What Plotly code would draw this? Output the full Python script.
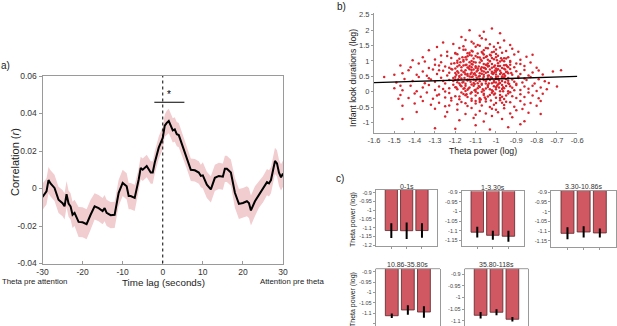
import plotly.graph_objects as go

W, H = 617, 326
FONT = "Liberation Sans, Arial, sans-serif"

# ---------------- Panel a: cross-correlation ----------------
lag_s = [-30, -29, -28.5, -28, -27, -26, -25, -24.5, -24, -23.5,
         -23, -22.5, -22, -21, -20, -19, -18, -17, -16, -15,
         -14.5, -14, -13, -12, -11, -10, -9, -8.5, -8, -7,
         -6, -5.5, -5, -4, -3, -2.5, -2, -1, 0, 0.5,
         1, 1.5, 2, 2.5, 3, 3.5, 4, 5, 6, 7,
         8, 9, 9.5, 10, 11, 12, 13, 14, 15, 15.5,
         16, 17, 18, 19, 20, 21, 21.5, 22, 23, 24,
         25, 26, 26.5, 27, 28, 28.5, 29, 29.5, 30]
corr_r = [-0.0045, -0.0015, 0.0045, 0.0027, 0.0003, -0.006, -0.0078, -0.0095, -0.003, -0.008,
          -0.0095, -0.014, -0.013, -0.0178, -0.018, -0.019, -0.014, -0.0095, -0.0105, -0.012,
          -0.0105, -0.013, -0.0142, -0.014, -0.0023, 0.003, 0.0012, -0.004, -0.004, -0.005,
          0.0048, 0.011, 0.010, 0.012, 0.0085, 0.0085, 0.0137, 0.0218, 0.027, 0.0335,
          0.035, 0.036, 0.0335, 0.031, 0.0315, 0.029, 0.0285, 0.0227, 0.0165, 0.010,
          0.0097, 0.0085, 0.0067, 0.007, 0.002, -0.0005, 0.0057, 0.0067, 0.0063, 0.0105,
          0.0105, 0.0085, -0.0023, -0.0082, -0.0077, -0.0068, -0.0077, -0.0117, -0.0068, -0.0033,
          -0.0005, 0.0034, 0.0027, 0.0045, 0.0147, 0.0134, 0.0084, 0.006, 0.008]
ci_half = [0.007, 0.007, 0.007, 0.007, 0.007, 0.007, 0.007, 0.007, 0.007, 0.007,
           0.007, 0.007, 0.007, 0.008, 0.008, 0.008, 0.008, 0.007, 0.007, 0.007,
           0.007, 0.007, 0.007, 0.007, 0.007, 0.007, 0.007, 0.007, 0.007, 0.007,
           0.006, 0.006, 0.006, 0.006, 0.006, 0.006, 0.006, 0.006, 0.006, 0.006,
           0.0065, 0.0065, 0.0065, 0.0065, 0.0065, 0.0065, 0.0065, 0.006, 0.006, 0.006,
           0.006, 0.006, 0.006, 0.007, 0.007, 0.007, 0.007, 0.007, 0.007, 0.007,
           0.007, 0.007, 0.008, 0.008, 0.008, 0.008, 0.008, 0.008, 0.008, 0.007,
           0.007, 0.007, 0.007, 0.007, 0.007, 0.007, 0.007, 0.007, 0.007]
lag_ticks = [-30, -20, -10, 0, 10, 20, 30]
lag_tick_text = ["-30", "-20", "-10", "0", "10", "20", "30"]
corr_ticks = [-0.04, -0.02, 0, 0.02, 0.04, 0.06]
corr_tick_text = ["-0.04", "-0.02", "0", "0.02", "0.04", "0.06"]
sig_window = [-2.1, 5.4]
sig_level = 0.046

# ---------------- Panel b: scatter ----------------
look_points = [
    (-1.13, 2.0), (-1.02, 2.05), (-1.08, 1.82), (-1.17, 1.78), (-0.98, 1.9), (-1.06, 1.95),
    (-1.21, 1.55), (-1.12, 1.62), (-1.05, 1.7), (-0.99, 1.58), (-1.09, 1.52), (-1.15, 1.68),
    (-0.96, 1.66), (-1.03, 1.54), (-1.26, 1.6), (-1.07, 1.74), (-0.93, 1.52), (-1.11, 1.57),
    (-1.24, 1.3), (-1.18, 1.42), (-1.13, 1.27), (-1.1, 1.46), (-1.06, 1.35), (-1.02, 1.28),
    (-0.98, 1.44), (-0.95, 1.32), (-1.15, 1.36), (-1.08, 1.49), (-1.04, 1.41), (-1.0, 1.37),
    (-1.2, 1.26), (-0.92, 1.4), (-1.12, 1.33), (-1.07, 1.29), (-1.29, 1.45), (-0.97, 1.27),
    (-1.16, 1.48), (-1.01, 1.46), (-0.89, 1.3), (-1.33, 1.35),
    (-1.3, 1.05), (-1.27, 1.18), (-1.22, 1.1), (-1.19, 1.22), (-1.16, 1.03), (-1.14, 1.15),
    (-1.11, 1.08), (-1.09, 1.24), (-1.07, 1.01), (-1.05, 1.13), (-1.03, 1.2), (-1.01, 1.06),
    (-0.99, 1.17), (-0.97, 1.02), (-0.94, 1.12), (-0.91, 1.21), (-0.88, 1.04), (-1.13, 1.19),
    (-1.08, 1.11), (-1.04, 1.04), (-1.0, 1.23), (-1.18, 1.07), (-1.24, 1.16), (-1.12, 1.0),
    (-0.96, 1.09), (-1.06, 1.21), (-1.36, 1.12), (-0.85, 1.14), (-1.2, 1.24), (-1.02, 1.1),
    (-1.1, 1.16), (-0.93, 1.0), (-1.15, 1.12), (-1.41, 1.02), (-0.82, 1.2),
    (-1.42, 0.8), (-1.38, 0.92), (-1.33, 0.77), (-1.3, 0.88), (-1.27, 0.96), (-1.25, 0.82),
    (-1.22, 0.91), (-1.2, 0.76), (-1.18, 0.86), (-1.16, 0.98), (-1.14, 0.79), (-1.12, 0.9),
    (-1.1, 0.83), (-1.08, 0.95), (-1.06, 0.78), (-1.05, 0.88), (-1.03, 0.99), (-1.01, 0.81),
    (-0.99, 0.93), (-0.97, 0.77), (-0.95, 0.87), (-0.93, 0.97), (-0.91, 0.8), (-0.88, 0.9),
    (-0.86, 0.84), (-0.83, 0.95), (-1.15, 0.87), (-1.11, 0.97), (-1.07, 0.8), (-1.02, 0.9),
    (-0.98, 0.84), (-1.19, 0.94), (-1.23, 0.78), (-1.09, 0.76), (-1.04, 0.82), (-0.96, 0.99),
    (-1.13, 0.84), (-1.0, 0.76), (-0.9, 0.92), (-1.28, 0.85), (-1.35, 0.98), (-0.8, 0.78),
    (-1.47, 0.85), (-0.94, 0.8), (-1.17, 0.8),
    (-1.46, 0.6), (-1.43, 0.7), (-1.39, 0.55), (-1.36, 0.66), (-1.34, 0.52), (-1.31, 0.72),
    (-1.29, 0.58), (-1.26, 0.68), (-1.24, 0.53), (-1.22, 0.74), (-1.2, 0.61), (-1.18, 0.51),
    (-1.17, 0.69), (-1.15, 0.57), (-1.13, 0.73), (-1.12, 0.63), (-1.1, 0.54), (-1.09, 0.7),
    (-1.07, 0.59), (-1.06, 0.66), (-1.04, 0.52), (-1.03, 0.72), (-1.01, 0.62), (-1.0, 0.56),
    (-0.98, 0.68), (-0.97, 0.5), (-0.95, 0.64), (-0.93, 0.74), (-0.92, 0.55), (-0.9, 0.67),
    (-0.88, 0.58), (-0.86, 0.71), (-0.84, 0.53), (-0.82, 0.63), (-0.79, 0.69), (-0.77, 0.56),
    (-1.16, 0.64), (-1.11, 0.58), (-1.08, 0.51), (-1.05, 0.74), (-1.02, 0.6), (-0.99, 0.73),
    (-0.96, 0.58), (-1.14, 0.52), (-1.19, 0.67), (-1.23, 0.62), (-1.28, 0.7), (-0.94, 0.6),
    (-1.0, 0.65), (-1.06, 0.55), (-1.12, 0.71), (-0.72, 0.66), (-0.68, 0.7), (-1.5, 0.55),
    (-0.89, 0.5),
    (-1.49, 0.3), (-1.45, 0.42), (-1.41, 0.35), (-1.38, 0.48), (-1.35, 0.28), (-1.32, 0.4),
    (-1.3, 0.33), (-1.27, 0.46), (-1.25, 0.27), (-1.23, 0.38), (-1.21, 0.45), (-1.19, 0.31),
    (-1.17, 0.43), (-1.15, 0.26), (-1.14, 0.37), (-1.12, 0.47), (-1.11, 0.29), (-1.09, 0.41),
    (-1.08, 0.34), (-1.06, 0.49), (-1.05, 0.27), (-1.03, 0.39), (-1.02, 0.45), (-1.0, 0.3),
    (-0.99, 0.42), (-0.97, 0.35), (-0.96, 0.47), (-0.94, 0.28), (-0.92, 0.4), (-0.91, 0.33),
    (-0.89, 0.45), (-0.87, 0.3), (-0.85, 0.38), (-0.83, 0.48), (-0.81, 0.27), (-0.79, 0.41),
    (-0.76, 0.34), (-1.16, 0.32), (-1.13, 0.4), (-1.1, 0.36), (-1.07, 0.26), (-1.04, 0.44),
    (-1.01, 0.36), (-0.98, 0.29), (-0.95, 0.41), (-1.2, 0.4), (-1.26, 0.35), (-1.33, 0.44),
    (-1.18, 0.48), (-0.9, 0.26), (-0.86, 0.43), (-1.06, 0.38), (-1.0, 0.48), (-0.74, 0.29),
    (-1.55, 0.48),
    (-1.5, 0.12), (-1.46, 0.05), (-1.42, 0.2), (-1.39, 0.02), (-1.36, 0.14), (-1.33, 0.22),
    (-1.3, 0.06), (-1.28, 0.17), (-1.25, 0.01), (-1.23, 0.12), (-1.21, 0.23), (-1.19, 0.08),
    (-1.17, 0.18), (-1.15, 0.03), (-1.13, 0.14), (-1.12, 0.24), (-1.1, 0.07), (-1.08, 0.16),
    (-1.07, 0.0), (-1.05, 0.11), (-1.04, 0.21), (-1.02, 0.05), (-1.0, 0.15), (-0.99, 0.24),
    (-0.97, 0.09), (-0.95, 0.19), (-0.94, 0.02), (-0.92, 0.13), (-0.9, 0.22), (-0.88, 0.06),
    (-0.86, 0.17), (-0.84, 0.1), (-0.82, 0.2), (-0.8, 0.03), (-0.78, 0.14), (-0.75, 0.08),
    (-1.16, 0.1), (-1.11, 0.2), (-1.06, 0.04), (-1.01, 0.18), (-0.96, 0.12), (-1.2, 0.15),
    (-1.26, 0.09), (-1.09, 0.12), (-1.03, 0.08), (-0.91, 0.05), (-1.14, 0.07), (-0.7, 0.17),
    (-1.47, 0.2), (-0.98, 0.02),
    (-1.47, -0.1), (-1.43, -0.2), (-1.4, -0.05), (-1.37, -0.16), (-1.34, -0.02), (-1.31, -0.22),
    (-1.28, -0.09), (-1.25, -0.18), (-1.23, -0.04), (-1.2, -0.14), (-1.18, -0.24), (-1.16, -0.07),
    (-1.14, -0.17), (-1.12, -0.01), (-1.1, -0.12), (-1.08, -0.21), (-1.06, -0.06), (-1.04, -0.15),
    (-1.02, -0.03), (-1.0, -0.19), (-0.98, -0.1), (-0.96, -0.23), (-0.94, -0.05), (-0.92, -0.14),
    (-0.9, -0.2), (-0.88, -0.08), (-0.86, -0.17), (-0.84, -0.02), (-0.82, -0.12), (-0.79, -0.21),
    (-1.15, -0.11), (-1.09, -0.04), (-1.05, -0.23), (-1.01, -0.09), (-0.97, -0.16), (-1.22, -0.2),
    (-1.29, -0.12), (-0.93, -0.01), (-1.48, -0.22), (-0.77, -0.06),
    (-1.36, -0.3), (-1.32, -0.42), (-1.28, -0.35), (-1.25, -0.47), (-1.22, -0.28), (-1.19, -0.4),
    (-1.17, -0.33), (-1.14, -0.46), (-1.12, -0.29), (-1.1, -0.38), (-1.07, -0.44), (-1.05, -0.31),
    (-1.03, -0.49), (-1.0, -0.36), (-0.98, -0.27), (-0.96, -0.43), (-0.93, -0.34), (-0.91, -0.48),
    (-0.88, -0.3), (-0.86, -0.41), (-0.83, -0.36), (-0.8, -0.45), (-1.15, -0.37), (-1.08, -0.26),
    (-1.01, -0.42), (-0.95, -0.32), (-1.23, -0.44), (-1.4, -0.38), (-0.78, -0.3), (-1.46, -0.45),
    (-1.3, -0.55), (-1.24, -0.65), (-1.19, -0.58), (-1.15, -0.72), (-1.12, -0.52), (-1.08, -0.62),
    (-1.05, -0.7), (-1.02, -0.55), (-0.99, -0.66), (-0.96, -0.53), (-0.93, -0.7), (-0.9, -0.6),
    (-0.87, -0.56), (-0.84, -0.68), (-1.1, -0.74), (-1.0, -0.58), (-0.78, -0.72), (-1.39, -0.65),
    (-1.25, -0.8), (-1.18, -0.92), (-1.11, -0.85), (-1.06, -0.96), (-1.02, -0.78), (-0.97, -0.88),
    (-0.92, -0.82), (-0.86, -0.95), (-1.46, -0.88),
    (-1.2, -1.2), (-1.1, -1.08), (-1.03, -1.22), (-0.94, -1.15), (-0.88, -1.05), (-1.3, -1.18),
]
# denser core of the cloud
core_points = [
    (-1.205, 0.93), (-1.185, 0.62), (-1.175, 0.21), (-1.165, 1.12), (-1.155, 0.45), (-1.145, -0.08),
    (-1.135, 0.78), (-1.125, 0.33), (-1.115, 1.31), (-1.105, 0.05), (-1.095, 0.66), (-1.085, 0.19),
    (-1.075, 1.05), (-1.065, 0.43), (-1.055, -0.18), (-1.045, 0.87), (-1.035, 0.27), (-1.025, 1.18),
    (-1.015, 0.58), (-1.005, -0.05), (-0.995, 0.71), (-0.985, 0.37), (-0.975, 1.09), (-0.965, 0.15),
    (-0.955, 0.52), (-0.945, 0.83), (-0.935, 0.25), (-0.925, 0.61), (-1.21, 0.35), (-1.19, 1.01),
    (-1.18, -0.15), (-1.17, 0.55), (-1.16, 0.85), (-1.15, 0.2), (-1.14, 1.25), (-1.13, 0.5),
    (-1.12, -0.22), (-1.11, 0.72), (-1.1, 0.95), (-1.09, 0.28), (-1.08, -0.33), (-1.07, 0.68),
    (-1.06, 1.1), (-1.05, 0.35), (-1.04, 0.92), (-1.03, -0.1), (-1.02, 0.65), (-1.01, 1.3),
    (-1.0, 0.08), (-0.99, 0.5), (-0.98, 0.98), (-0.97, 0.22), (-0.96, 0.75), (-0.95, -0.12),
    (-0.94, 0.45), (-0.93, 0.88), (-1.215, 0.72), (-1.195, 0.14), (-1.175, 0.96), (-1.155, 0.63),
    (-1.135, 0.11), (-1.115, 0.89), (-1.095, 0.46), (-1.075, -0.25), (-1.055, 0.77), (-1.035, 0.53),
    (-1.015, 0.02), (-0.995, 1.02), (-0.975, 0.62), (-0.955, 0.31), (-1.2, 0.49), (-1.18, 0.27),
    (-1.16, 1.36), (-1.14, 0.4), (-1.12, 0.8), (-1.1, 0.0), (-1.08, 0.6), (-1.06, 0.9),
    (-1.04, 0.16), (-1.02, 0.78), (-1.0, 0.42), (-0.98, -0.2), (-0.96, 0.86), (-0.94, 0.36),
    (-1.19, 0.82), (-1.17, -0.02), (-1.15, 0.7), (-1.13, 0.96), (-1.11, 0.4), (-1.09, 1.12),
    (-1.07, 0.23), (-1.05, 0.62), (-1.03, 1.0), (-1.01, 0.31), (-0.99, 0.84), (-0.97, 0.47),
    (-0.95, 1.08), (-0.93, 0.18), (-1.125, 0.58), (-1.085, 0.82), (-1.045, 0.4), (-1.005, 0.69),
    (-0.965, 0.02), (-1.145, 1.05), (-1.105, 0.25), (-1.065, 1.25), (-1.025, -0.28), (-0.985, 0.14),
    (-1.165, 0.3), (-1.125, -0.05), (-1.085, 0.5), (-1.045, 1.15), (-1.005, 0.85), (-0.965, 0.56),
    (-1.185, 0.41), (-1.145, 0.88), (-1.105, 0.6), (-1.065, 0.08), (-1.025, 0.47), (-0.985, 0.27),
    (-0.945, 0.65), (-1.195, 0.55), (-1.155, 0.12), (-1.115, 0.5), (-1.075, 0.74), (-1.035, 0.84),
    (-0.995, 0.2), (-0.955, 0.72), (-1.1, 0.78), (-1.06, -0.1), (-1.02, 0.28), (-0.98, 0.58),
    (-1.14, 0.58), (-1.04, 0.64), (-1.08, 0.42), (-1.12, 1.18), (-1.0, 1.12), (-1.1, -0.3),
    (-0.97, -0.35), (-1.05, 1.42),
]
fit_x = [-1.6, -0.6]
fit_y = [0.30, 0.50]
theta_ticks = [-1.6, -1.5, -1.4, -1.3, -1.2, -1.1, -1.0, -0.9, -0.8, -0.7, -0.6]
theta_tick_text = ["-1.6", "-1.5", "-1.4", "-1.3", "-1.2", "-1.1", "-1", "-0.9", "-0.8", "-0.7", "-0.6"]
look_ticks = [-1, -0.5, 0, 0.5, 1, 1.5, 2, 2.5]
look_tick_text = ["-1", "-0.5", "0", "0.5", "1", "1.5", "2", "2.5"]

# ---------------- Panel c: bar charts ----------------
bin_titles = ["0-1s", "1-3.30s", "3.30-10.86s", "10.86-35.80s", "35.80-118s"]
bar_slots = [1, 2, 3]
bin_means = [[-1.116, -1.117, -1.116],
             [-1.108, -1.124, -1.129],
             [-1.112, -1.105, -1.110],
             [-1.113, -1.085, -1.095],
             [-1.077, -1.064, -1.094]]
bin_errs = [[0.042, 0.047, 0.041],
            [0.028, 0.023, 0.028],
            [0.031, 0.029, 0.023],
            [0.011, 0.023, 0.028],
            [0.014, 0.013, 0.010]]
power_ticks = [-1.2, -1.15, -1.1, -1.05, -1.0, -0.95, -0.9]
power_tick_text = ["-1.2", "-1.15", "-1.1", "-1.05", "-1", "-0.95", "-0.9"]


def dx(a, b):
    return [a / W, b / W]


def dy(top, bottom):
    return [max(0.0, 1 - bottom / H), min(1.0, 1 - top / H)]


fig = go.Figure()

# Panel a traces
upper = [c + h for c, h in zip(corr_r, ci_half)]
lower = [c - h for c, h in zip(corr_r, ci_half)]
fig.add_trace(go.Scatter(x=lag_s, y=upper, mode="lines", line=dict(width=0),
                         hoverinfo="skip", showlegend=False, xaxis="x", yaxis="y"))
fig.add_trace(go.Scatter(x=lag_s, y=lower, mode="lines", line=dict(width=0),
                         fill="tonexty", fillcolor="#F2CDD0",
                         hoverinfo="skip", showlegend=False, xaxis="x", yaxis="y"))
fig.add_trace(go.Scatter(x=lag_s, y=corr_r, mode="lines",
                         line=dict(color="black", width=2),
                         showlegend=False, xaxis="x", yaxis="y"))

# Panel b traces
all_points = look_points + core_points
fig.add_trace(go.Scatter(x=[p[0] for p in all_points], y=[p[1] for p in all_points],
                         mode="markers",
                         marker=dict(color="#D9262E", size=2.5, line=dict(width=0)),
                         showlegend=False, xaxis="x2", yaxis="y2"))
fig.add_trace(go.Scatter(x=fit_x, y=fit_y, mode="lines",
                         line=dict(color="black", width=1.4),
                         showlegend=False, xaxis="x2", yaxis="y2"))

# Panel c traces
for i in range(5):
    ax = str(i + 3)
    fig.add_trace(go.Bar(x=bar_slots, y=bin_means[i], base=0, width=0.8,
                         marker=dict(color="#CF5862", line=dict(color="#5A2428", width=0.8)),
                         error_y=dict(type="data", array=bin_errs[i], color="black",
                                      thickness=2, width=0),
                         showlegend=False, xaxis="x" + ax, yaxis="y" + ax))

AX = dict(showgrid=False, zeroline=False, showline=True, linecolor="#9a9a9a",
          linewidth=1, ticks="outside", tickcolor="#9a9a9a", automargin=False)

layout = dict(
    width=W, height=H, autosize=False,
    margin=dict(l=0, r=0, t=0, b=0, pad=0),
    paper_bgcolor="white", plot_bgcolor="white",
    font=dict(family=FONT, color="#333"),
    bargap=0.2,
)

layout["xaxis"] = dict(AX, domain=dx(42.5, 283), range=[-30, 30], mirror=True,
                       tickvals=lag_ticks, ticktext=lag_tick_text, ticks="inside", ticklen=3,
                       tickfont=dict(size=8.5, color="#333"), anchor="y")
layout["yaxis"] = dict(AX, domain=dy(76, 263.5), range=[-0.04, 0.06], mirror=True,
                       tickvals=corr_ticks, ticktext=corr_tick_text, ticklen=3,
                       tickfont=dict(size=8.5, color="#333"), anchor="x")

layout["xaxis2"] = dict(AX, domain=dx(374, 577.3), range=[-1.6, -0.6],
                        tickvals=theta_ticks, ticktext=theta_tick_text, ticks="inside", ticklen=2,
                        tickfont=dict(size=7.5, color="#444"), anchor="y2")
layout["yaxis2"] = dict(AX, domain=dy(13, 133), range=[-1.334, 2.555],
                        tickvals=look_ticks, ticktext=look_tick_text, ticklen=2,
                        tickfont=dict(size=7.5, color="#444"), anchor="x2")

bar_boxes = [
    (376, 437.3, 190, 246, [-1.204, -0.885]),
    (461.7, 524, 191.3, 246.3, [-1.181, -0.896]),
    (551.3, 616, 190.7, 247.3, [-1.184, -0.892]),
    (375.7, 440, 268.7, 330, [-1.163, -0.884]),
    (464.7, 528.3, 268.7, 330, [-1.123, -0.877]),
]
shapes = []
annotations = []
for i, (x0, x1, y0, y1, yr) in enumerate(bar_boxes):
    n = str(i + 3)
    bottom_row = i >= 3
    layout["xaxis" + n] = dict(AX, domain=dx(x0, x1), range=[0, 4], mirror=not bottom_row,
                               showline=not bottom_row,
                               tickvals=bar_slots, showticklabels=False, ticklen=2,
                               anchor="y" + n)
    layout["yaxis" + n] = dict(AX, domain=dy(y0, y1), range=yr, mirror=True,
                               tickvals=power_ticks, ticktext=power_tick_text, ticklen=2,
                               tickfont=dict(size=5.5, color="#444"), anchor="x" + n)
    if bottom_row:
        shapes.append(dict(type="line", xref="paper", yref="paper",
                           x0=x0 / W, x1=x1 / W, y0=1 - y0 / H, y1=1 - y0 / H,
                           line=dict(color="#9a9a9a", width=1)))
    annotations.append(dict(text=bin_titles[i], x=(x0 + x1) / 2 / W, y=1 - (y0 - 4) / H,
                            xref="paper", yref="paper", showarrow=False,
                            font=dict(size=7, color="#333"), xanchor="center", yanchor="middle"))

# Panel a decorations
shapes.append(dict(type="line", xref="x", yref="y", x0=0, x1=0, y0=-0.04, y1=0.06,
                   line=dict(color="black", width=1, dash="dot")))
shapes.append(dict(type="line", xref="x", yref="y", x0=sig_window[0], x1=sig_window[1],
                   y0=sig_level, y1=sig_level, line=dict(color="black", width=1.2)))
annotations.append(dict(text="*", x=1.6, y=sig_level, xref="x", yref="y", showarrow=False,
                        font=dict(size=10, color="black"), yanchor="bottom"))


def lab(text, x, y, size, angle=0, xanchor="center", color="#222"):
    annotations.append(dict(text=text, x=x / W, y=1 - y / H, xref="paper", yref="paper",
                            showarrow=False, textangle=angle, xanchor=xanchor,
                            yanchor="middle", font=dict(size=size, color=color)))


lab("a)", 5, 66, 10)
lab("Correlation (<i>r</i>)", 15, 162, 11, angle=-90)
lab("Time lag (seconds)", 163, 282, 9.8)
lab("Theta pre attention", 0, 281, 7.8, xanchor="left")
lab("Attention pre theta", 258, 281, 7.8, xanchor="left")
lab("b)", 342, 6, 10)
lab("Infant look durations (log)", 353, 78, 8.7, angle=-90)
lab("Theta power (log)", 483, 151, 8.7)
lab("c)", 340, 178, 10)
lab("Theta power (log)", 353, 220, 7, angle=-90)
lab("Theta power (log)", 353, 300, 7, angle=-90)

layout["shapes"] = shapes
layout["annotations"] = annotations
fig.update_layout(**layout)
fig.write_html(
    "out.html",
    config={"displayModeBar": False, "staticPlot": True},
    post_script="document.body.style.margin='0';document.body.style.overflow='hidden';",
)
